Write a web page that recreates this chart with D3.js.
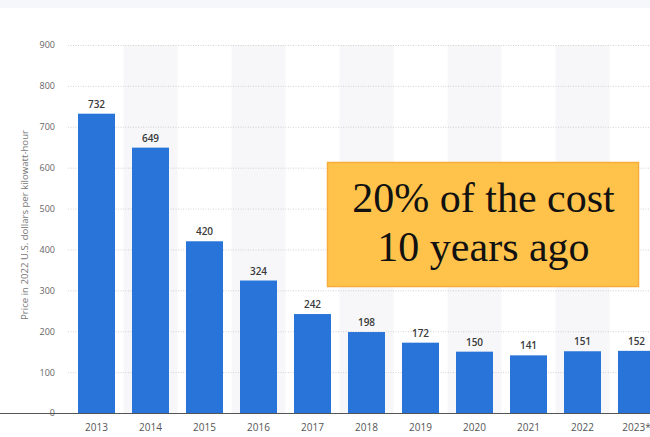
<!DOCTYPE html>
<html><head><meta charset="utf-8">
<script src="https://cdn.jsdelivr.net/npm/d3@7"></script>
<style>html,body{margin:0;padding:0;background:#fff;overflow:hidden}</style>
</head><body>
<svg id="c" width="650" height="437"></svg>
<script>
const years = ["2013","2014","2015","2016","2017","2018","2019","2020","2021","2022","2023*"];
const prices = [732,649,420,324,242,198,172,150,141,151,152];
const yTicks = [0,100,200,300,400,500,600,700,800,900];
const yTitle = "Price in 2022 U.S. dollars per kilowatt-hour";
const noteLines = ["20% of the cost","10 years ago"];

const svg = d3.select("#c");
svg.append("rect").attr("x",0).attr("y",0).attr("width",650).attr("height",8).attr("fill","#f5f7fb");

const x = d3.scaleBand().domain(years).range([69.5, 663.5]).paddingInner(0.315).paddingOuter(0.1575);
const y = d3.scaleLinear().domain([0,900]).range([413,45]);

// alternating stripes
svg.append("g").selectAll("rect").data(years.filter((d,i)=>i%2===1)).join("rect")
  .attr("x", d=>x(d) - x.step()*x.paddingInner()/2)
  .attr("width", x.step())
  .attr("y", y(900)).attr("height", y(0)-y(900))
  .attr("fill","#f7f7f9");

// grid
const grid = d3.axisLeft(y).tickValues(yTicks.filter(t=>t>0)).tickSize(-600).tickFormat("");
const gg = svg.append("g").attr("transform","translate(68,0)").call(grid);
gg.select(".domain").remove();
gg.selectAll("line").attr("stroke","#c8c8c8").attr("stroke-dasharray","1,1.5").attr("stroke-width",0.8);

// y labels
const ya = d3.axisLeft(y).tickValues(yTicks).tickSize(0).tickPadding(0);
const yg = svg.append("g").attr("transform","translate(55,0)").call(ya);
yg.select(".domain").remove();
yg.selectAll("text").attr("font-family","'Open Sans', sans-serif").attr("font-size",9).attr("fill","#666");

svg.append("text").attr("transform","translate(28,225) rotate(-90)").attr("text-anchor","middle")
  .attr("font-family","'Open Sans', sans-serif").attr("font-size",9.6).attr("fill","#777").text(yTitle);

// bars
svg.append("g").selectAll("rect").data(years).join("rect")
  .attr("x", d=>x(d)).attr("width", x.bandwidth())
  .attr("y", (d,i)=>y(prices[i])).attr("height",(d,i)=>y(0)-y(prices[i]))
  .attr("fill","#2874d9");

// value labels
svg.append("g").selectAll("text").data(years).join("text")
  .attr("x", d=>x(d)+x.bandwidth()/2).attr("y",(d,i)=>y(prices[i])-6)
  .attr("text-anchor","middle").attr("font-family","'Open Sans', sans-serif")
  .attr("font-size",10).attr("font-weight",600).attr("fill","#3a3a3a")
  .text((d,i)=>prices[i]);

// x axis
const xa = d3.axisBottom(x).tickSize(0).tickPadding(11);
const xg = svg.append("g").attr("transform","translate(0,413)").call(xa);
xg.select(".domain").attr("d","M-1.5,0.5H700").attr("stroke","#555").attr("stroke-width",1.2);
xg.selectAll("text").attr("font-family","'Open Sans', sans-serif").attr("font-size",10).attr("fill","#555");

// annotation
svg.append("rect").attr("x",327.5).attr("y",162.5).attr("width",311).attr("height",124)
  .attr("fill","#ffc34b").attr("stroke","#f5ad3c").attr("stroke-width",1.5);
svg.append("g").selectAll("text").data(noteLines).join("text")
  .attr("x",483.5).attr("y",(d,i)=>212+i*49).attr("text-anchor","middle")
  .attr("font-family","'Liberation Serif', 'Times New Roman', serif").attr("font-size",42).attr("fill","#111")
  .text(d=>d);
</script>
</body></html>
